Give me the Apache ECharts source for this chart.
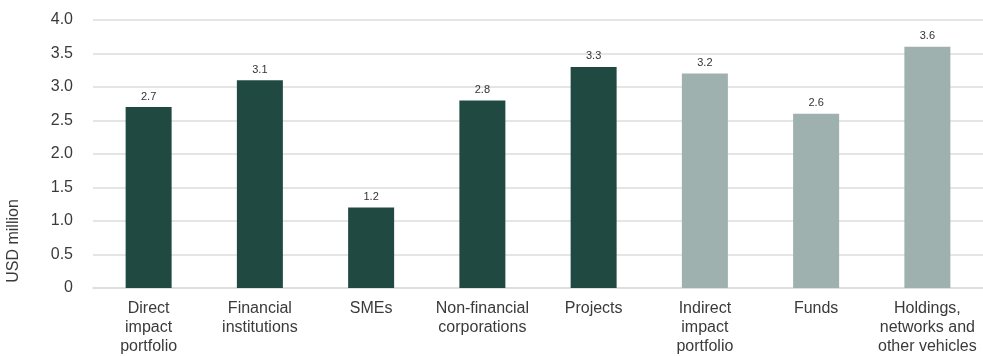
<!DOCTYPE html>
<html>
<head>
<meta charset="utf-8">
<script src="https://cdn.jsdelivr.net/npm/echarts@6/dist/echarts.min.js"></script>
<style>
  html, body { margin: 0; padding: 0; background: #fff; }
  #chart { width: 983px; height: 356px; }
</style>
</head>
<body>
<div id="chart"></div>
<script>
// categories and values
const categories = [
  'Direct\nimpact\nportfolio',
  'Financial\ninstitutions',
  'SMEs',
  'Non-financial\ncorporations',
  'Projects',
  'Indirect\nimpact\nportfolio',
  'Funds',
  'Holdings,\nnetworks and\nother vehicles'
];
const values = [2.7, 3.1, 1.2, 2.8, 3.3, 3.2, 2.6, 3.6];
// first five bars are the direct portfolio (dark), rest indirect (grey)
const groups = ['direct', 'direct', 'direct', 'direct', 'direct', 'indirect', 'indirect', 'indirect'];
const groupColors = { direct: '#204a41', indirect: '#9fb1ae' };

const chart = echarts.init(document.getElementById('chart'));

const options = {
  animation: false,
  textStyle: { fontFamily: 'Liberation Sans, Arial, sans-serif' },
  grid: { left: 93, right: 0, top: 20, bottom: 68 },
  xAxis: {
    type: 'category',
    data: categories,
    axisTick: { show: false },
    axisLine: { lineStyle: { color: '#dcdcdc', width: 1.5 } },
    axisLabel: {
      interval: 0,
      color: '#3a3a3a',
      fontSize: 16,
      lineHeight: 19,
      margin: 11
    }
  },
  yAxis: {
    type: 'value',
    min: 0,
    max: 4,
    interval: 0.5,
    axisLine: { show: false },
    axisTick: { show: false },
    splitLine: { lineStyle: { color: '#dcdcdc', width: 1.5 } },
    axisLabel: {
      color: '#3a3a3a',
      fontSize: 16,
      margin: 20,
      formatter: v => (v === 0 ? '0' : v.toFixed(1))
    }
  },
  graphic: [
    {
      type: 'text',
      x: 14,
      y: 241,
      rotation: Math.PI / 2,
      style: {
        text: 'USD million',
        fill: '#3a3a3a',
        font: '16px Liberation Sans, Arial, sans-serif',
        textAlign: 'center',
        textVerticalAlign: 'middle'
      }
    }
  ],
  series: [
    {
      type: 'bar',
      barWidth: 46,
      data: values.map((v, i) => ({
        value: v,
        itemStyle: { color: groupColors[groups[i]] }
      })),
      label: {
        show: true,
        position: 'top',
        distance: 5,
        color: '#333',
        fontSize: 11,
        formatter: p => p.value.toFixed(1)
      }
    }
  ]
};

chart.setOption(options);
</script>
</body>
</html>
